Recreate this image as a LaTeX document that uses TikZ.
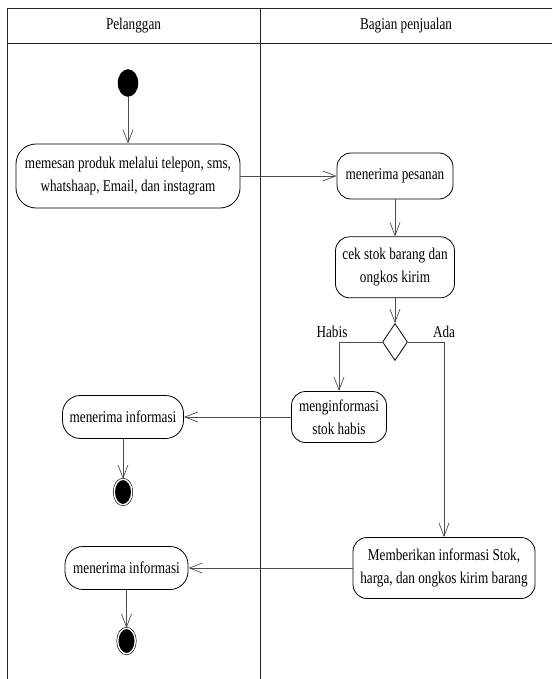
\documentclass[tikz,border=0pt]{standalone}
\usepackage{fontspec}
\setmainfont[FakeStretch=0.8]{Liberation Serif}
\usepackage{tikz}
\usetikzlibrary{shapes.geometric, arrows.meta, positioning}
\definecolor{flowgray}{HTML}{4D4D4D}
\tikzstyle{actnode} = [draw, rectangle, rounded corners=14pt, text centered, align=center, line width=0.8pt, font=\fontsize{16.5}{23}\selectfont, inner sep=3pt]
\tikzstyle{startnode} = [draw, ellipse, fill=black, minimum width=20pt, minimum height=27pt, inner sep=0pt]
\tikzstyle{endnode} = [draw=black, ellipse, fill=black, double=white, double distance=1.4pt, line width=0.6pt, minimum width=17.5pt, minimum height=25.5pt, inner sep=0pt]
\tikzstyle{decnode} = [draw, diamond, minimum width=25pt, minimum height=37pt, inner sep=0pt, line width=0.8pt]
\tikzstyle{lbl} = [font=\fontsize{16.5}{19}\selectfont, inner sep=0pt]
\tikzstyle{arrw} = [line width=0.7pt, -{Straight Barb[length=13pt, width=10pt]}, color=flowgray]
\tikzstyle{lane} = [line width=0.9pt, color=black!85]

\begin{document}
\begin{tikzpicture}[x=1pt, y=-1pt]
    \useasboundingbox (0,0) rectangle (552,679);
    % swimlanes
    \draw [lane] (552,8.5) -- (7.5,8.5) -- (7.5,679);
    \draw [lane] (7.5,43) -- (552,43);
    \draw [lane] (260,8.5) -- (260,679);
    \node (pelanggan) [lbl] at (133.5,26) {Pelanggan};
    \node (penjualan) [lbl] at (406,26) {Bagian penjualan};

    % Pelanggan
    \node (mulai) [startnode] at (128,83) {};
    \node (pesan) [actnode, minimum width=224pt, minimum height=64pt, rounded corners=20pt] at (128,176) {memesan produk melalui telepon, sms,\\whatshaap, Email, dan instagram};

    % Bagian penjualan
    \node (terima) [actnode, minimum width=116pt, minimum height=46pt] at (395,176) {menerima pesanan};
    \node (cek) [actnode, minimum width=119pt, minimum height=61pt, below=37pt of terima] {cek stok barang dan\\ongkos kirim};
    \node (pilih) [decnode] at (395,342) {};
    \coordinate (habis) at (339,342);
    \coordinate (ada) at (444,342);
    \node (lhabis) [lbl, above=4pt of habis, xshift=-7pt] {Habis};
    \node (lada) [lbl, above=4pt of ada] {Ada};
    \node (infohabis) [actnode, minimum width=95pt, minimum height=51pt] at (339,417) {menginformasi\\stok habis};
    \node (beri) [actnode, minimum width=182pt, minimum height=61pt] at (444,568) {Memberikan informasi Stok,\\harga, dan ongkos kirim barang};

    % Pelanggan
    \node (terima1) [actnode, minimum width=121pt, minimum height=43pt, rounded corners=18pt] at (123,417) {menerima informasi};
    \node (akhir1) [endnode] at (123,492) {};
    \node (terima2) [actnode, minimum width=123pt, minimum height=43pt, rounded corners=18pt] at (126.5,568) {menerima informasi};
    \node (akhir2) [endnode] at (126.5,641) {};

    \draw [arrw] (mulai) -- (pesan);
    \draw [arrw] (pesan) -- (terima);
    \draw [arrw] (terima) -- (cek);
    \draw [arrw] (cek) -- (pilih);
    \draw [arrw] (pilih.west) -- (habis) -- (infohabis);
    \draw [arrw] (pilih.east) -- (ada) -- (beri);
    \draw [arrw] (infohabis) -- (terima1);
    \draw [arrw] (terima1) -- (akhir1);
    \draw [arrw] (beri) -- (terima2);
    \draw [arrw] (terima2) -- (akhir2);
\end{tikzpicture}
\end{document}
